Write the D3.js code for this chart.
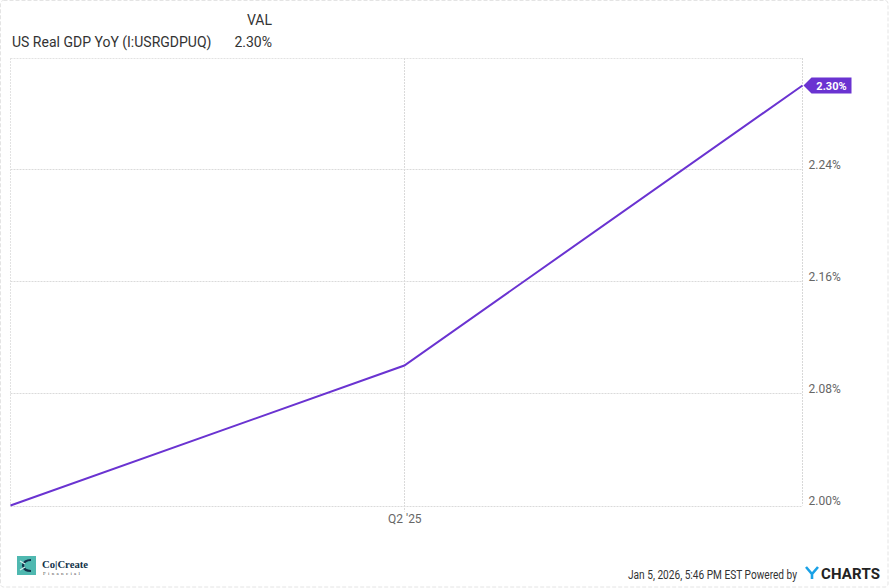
<!DOCTYPE html>
<html><head><meta charset="utf-8">
<script src="https://cdn.jsdelivr.net/npm/d3@7"></script>
<style>
html,body{margin:0;padding:0;background:#fff;}
svg{display:block;font-family:Roboto, "Noto Sans", sans-serif;}
</style></head>
<body>
<svg id="c" width="889" height="588"></svg>
<script>
const dates = ["2025-03-31", "2025-06-30", "2025-09-30"];
const values = [2.00, 2.10, 2.30];
const yTicks = [2.00, 2.08, 2.16, 2.24];
const xTickDates = ["2025-06-30"];
const xTickLabels = ["Q2 '25"];
const seriesName = "US Real GDP YoY (I:USRGDPUQ)";
const lastLabel = "2.30%";
const footerText = "Jan 5, 2026, 5:46 PM EST Powered by";

const parse = d3.timeParse("%Y-%m-%d");
const data = dates.map((d, i) => ({date: parse(d), value: values[i]}));

const svg = d3.select("#c");
const W = 889, H = 588;
const m = {left: 10.5, right: 802.5, top: 58, bottom: 505.5};
const lineColor = "#6a33d1";

// outer frame
svg.append("rect").attr("x", 0.5).attr("y", 0.5).attr("width", W - 1.5).attr("height", H - 1.5)
  .attr("rx", 3).attr("fill", "none").attr("stroke", "#e4e4e4").attr("stroke-dasharray", "4,2");

const x = d3.scaleTime().domain(d3.extent(data, d => d.date)).range([m.left, m.right]);
const y = d3.scaleLinear().domain([2.00, 2.32]).range([m.bottom, m.bottom - 0.32 * 1400]);

const grid = svg.append("g");
grid.selectAll("line.h").data(yTicks).join("line")
  .attr("x1", m.left).attr("x2", m.right)
  .attr("y1", d => Math.round(y(d)) + 0.5).attr("y2", d => Math.round(y(d)) + 0.5)
  .attr("stroke", "#dadada").attr("stroke-dasharray", "2,1");
grid.append("line").attr("x1", m.left).attr("x2", m.right).attr("y1", m.top + 0.5).attr("y2", m.top + 0.5)
  .attr("stroke", "#e2e2e2").attr("stroke-dasharray", "2,1");
grid.selectAll("line.v").data(xTickDates).join("line")
  .attr("x1", d => Math.round(x(parse(d))) + 0.5).attr("x2", d => Math.round(x(parse(d))) + 0.5)
  .attr("y1", m.top).attr("y2", m.bottom + 6)
  .attr("stroke", "#dadada").attr("stroke-dasharray", "2,1");
grid.append("line").attr("x1", m.left).attr("x2", m.left).attr("y1", m.top).attr("y2", m.bottom)
  .attr("stroke", "#e2e2e2").attr("stroke-dasharray", "2,1");
grid.append("line").attr("x1", m.right).attr("x2", m.right).attr("y1", m.top).attr("y2", m.bottom)
  .attr("stroke", "#d8d8d8").attr("stroke-dasharray", "2,1");

// y axis labels
const yAxis = d3.axisRight(y).tickValues(yTicks).tickSize(0).tickPadding(0)
  .tickFormat(d => d3.format(".2f")(d) + "%");
const ya = svg.append("g").attr("transform", `translate(${m.right + 6},0)`).call(yAxis);
ya.select(".domain").remove();
ya.selectAll("text").attr("font-size", 12).attr("fill", "#666").attr("dy", "-0.05em")
  .attr("font-family", "Roboto, sans-serif");

// x axis labels
const xAxis = d3.axisBottom(x).tickValues(xTickDates.map(parse)).tickSize(0).tickPadding(0)
  .tickFormat((d, i) => xTickLabels[i]);
const xa = svg.append("g").attr("transform", `translate(0,${m.bottom + 7})`).call(xAxis);
xa.select(".domain").remove();
xa.selectAll("text").attr("font-size", 12).attr("fill", "#666").attr("dy", "0.9em")
  .attr("font-family", "Roboto, sans-serif");

// line
svg.append("path").datum(data)
  .attr("d", d3.line().x(d => x(d.date)).y(d => y(d.value)))
  .attr("fill", "none").attr("stroke", lineColor).attr("stroke-width", 2);

// last value tag
const last = data[data.length - 1];
const tx = x(last.date), ty = y(last.value);
const tag = svg.append("g").attr("transform", `translate(${tx},${ty})`);
tag.append("path").attr("d", "M1,0 L9,-8 L49,-8 L49,8 L9,8 Z").attr("fill", lineColor);
tag.append("text").attr("x", 29).attr("y", 4).attr("text-anchor", "middle")
  .attr("font-size", 11).attr("font-weight", "bold").attr("fill", "#fff").text(lastLabel);

// header
svg.append("text").attr("x", 272).attr("y", 25).attr("text-anchor", "end")
  .attr("font-size", 14).attr("fill", "#333").text("VAL");
svg.append("text").attr("x", 12).attr("y", 47)
  .attr("font-size", 14).attr("fill", "#333").text(seriesName);
svg.append("text").attr("x", 272).attr("y", 47).attr("text-anchor", "end")
  .attr("font-size", 14).attr("fill", "#333").text(lastLabel);

// footer
svg.append("text").attr("x", 628).attr("y", 579)
  .attr("font-size", 12).attr("fill", "#333")
  .attr("textLength", 169).attr("lengthAdjust", "spacingAndGlyphs").text(footerText);
const yc = svg.append("g").attr("transform", "translate(806,579)");
yc.append("path").attr("d", "M0,-12 L6,-5 L12,-12 M6,-5 L6,0").attr("fill", "none")
  .attr("stroke", "#1aa1e6").attr("stroke-width", 2.6).attr("stroke-linejoin", "miter");
yc.append("text").attr("x", 15).attr("y", 0).attr("font-size", 15).attr("font-weight", "bold")
  .attr("textLength", 59).attr("lengthAdjust", "spacing").attr("fill", "#222").text("CHARTS");

// Co Create Financial logo
const lg = svg.append("g").attr("transform", "translate(17,556)");
lg.append("rect").attr("width", 19).attr("height", 19).attr("fill", "#4fb8b0");
lg.append("path").attr("d", "M14,4 Q7,4 6,9.5 Q7,15 14,15").attr("fill", "none")
  .attr("stroke", "#12324a").attr("stroke-width", 2.2);
lg.append("path").attr("d", "M3,5 L8,8 M3,14 L8,11").attr("stroke", "#d6f0ee").attr("stroke-width", 1.2);
lg.append("text").attr("x", 25).attr("y", 12).attr("font-family", "'Liberation Serif', serif")
  .attr("font-size", 11).attr("font-weight", "bold").attr("fill", "#12324a")
  .attr("textLength", 46).attr("lengthAdjust", "spacingAndGlyphs").text("Co|Create");
lg.append("text").attr("x", 26).attr("y", 19).attr("font-family", "'Liberation Serif', serif")
  .attr("font-size", 5).attr("letter-spacing", "2.3").attr("fill", "#444").text("Financial");
</script>
</body></html>
